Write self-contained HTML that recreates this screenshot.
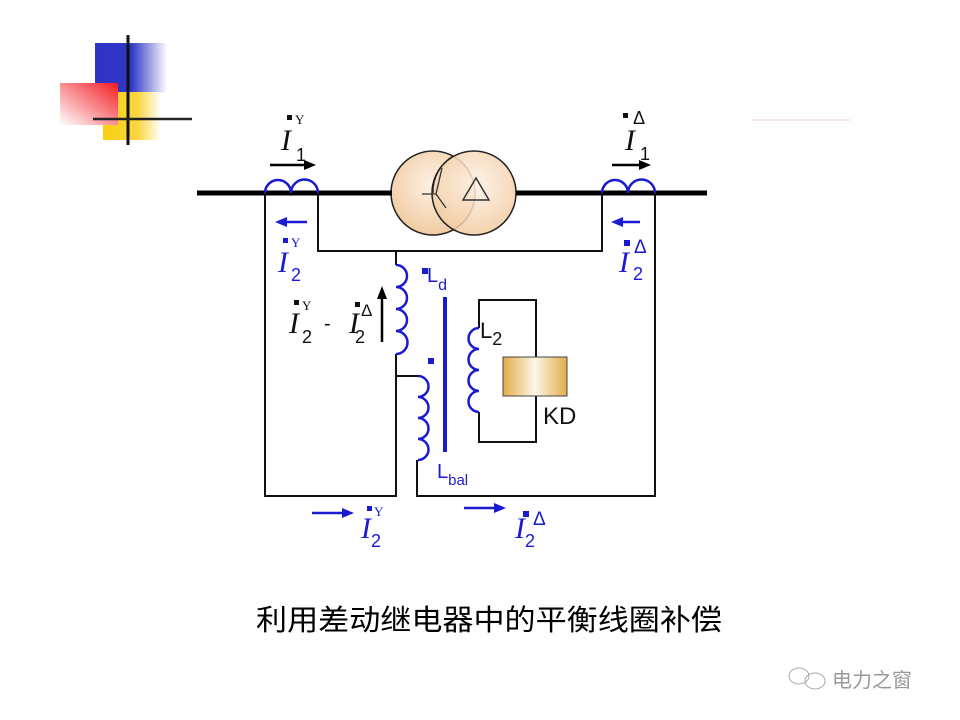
<!DOCTYPE html>
<html><head><meta charset="utf-8"><style>
html,body{margin:0;padding:0;background:#fff;}
svg{display:block;}
.it{font-family:"Liberation Serif",serif;font-style:italic;}
.sa{font-family:"Liberation Sans",sans-serif;}
</style></head><body>
<svg width="960" height="720" viewBox="0 0 960 720" xmlns="http://www.w3.org/2000/svg">
<defs>
<linearGradient id="gb" x1="0" x2="1"><stop offset="0" stop-color="#2f34c8"/><stop offset="0.5" stop-color="#3036c6"/><stop offset="1" stop-color="#fff"/></linearGradient>
<linearGradient id="gy" x1="0" x2="1"><stop offset="0" stop-color="#f9cf10"/><stop offset="0.6" stop-color="#fad640"/><stop offset="1" stop-color="#fff"/></linearGradient>
<linearGradient id="gr" x1="1" y1="0" x2="0" y2="1"><stop offset="0" stop-color="#f21c22"/><stop offset="1" stop-color="#fff"/></linearGradient>
<radialGradient id="gc" cx="0.5" cy="0.4" r="0.7"><stop offset="0" stop-color="#fdf2e6"/><stop offset="1" stop-color="#f0c495"/></radialGradient>
<linearGradient id="gk" x1="0" x2="1"><stop offset="0" stop-color="#e2ac48"/><stop offset="0.5" stop-color="#fdf6e8"/><stop offset="1" stop-color="#e2ac48"/></linearGradient>
</defs>
<rect x="95" y="43" width="72" height="50" fill="url(#gb)"/>
<rect x="103" y="92" width="58" height="48" fill="url(#gy)"/>
<rect x="60" y="83" width="58" height="42" fill="url(#gr)"/>
<line x1="128" y1="35" x2="128" y2="145" stroke="#111" stroke-width="3"/>
<line x1="93" y1="119" x2="192" y2="119" stroke="#222" stroke-width="2.5"/>
<line x1="752" y1="120" x2="850" y2="120" stroke="#f3e0e0" stroke-width="1.5"/>

<circle cx="433" cy="193" r="42" fill="url(#gc)" stroke="#222" stroke-width="1.5"/>
<circle cx="474" cy="193" r="42" fill="url(#gc)" fill-opacity="0.85" stroke="#222" stroke-width="1.5"/>
<path d="M433 193 A42 42 0 0 1 453 156" fill="none" stroke="#222" stroke-width="1.2"/>
<path d="M422 194 H436 L442 168 M436 194 L446 208" fill="none" stroke="#333" stroke-width="1.3"/>
<path d="M476 178 l-13 22 h26 z" fill="none" stroke="#333" stroke-width="1.5"/>

<line x1="197" y1="193" x2="392" y2="193" stroke="#000" stroke-width="5"/>
<line x1="516" y1="193" x2="707" y2="193" stroke="#000" stroke-width="5"/>
<path d="M265 193 a13 13 0 0 1 26 0 a13 13 0 0 1 27 0" fill="none" stroke="#1a1ad0" stroke-width="2.5"/>
<path d="M602 193 a13 13 0 0 1 26 0 a13 13 0 0 1 27 0" fill="none" stroke="#1a1ad0" stroke-width="2.5"/>

<g fill="none" stroke="#111" stroke-width="2">
<path d="M265 193 V496 H396 V354"/>
<path d="M396 376 H420"/>
<path d="M318 193 V251 H602 V193"/>
<path d="M396 251 V265"/>
<path d="M655 193 V496 H417 V460"/>
<path d="M479 328 V300 H536 V442 H479 V412"/>
</g>
<g fill="none" stroke="#1a1ad0" stroke-width="2.5">
<path d="M396 265 a11 11 0 0 1 0 22 a11 11 0 0 1 0 22 a11 11 0 0 1 0 22 a11 11 0 0 1 0 23"/>
<path d="M418 376 a10.5 10.5 0 0 1 0 21 a10.5 10.5 0 0 1 0 21 a10.5 10.5 0 0 1 0 21 a10.5 10.5 0 0 1 0 21"/>
<path d="M479 328 a10.5 10.5 0 0 0 0 21 a10.5 10.5 0 0 0 0 21 a10.5 10.5 0 0 0 0 21 a10.5 10.5 0 0 0 0 21"/>
</g>
<line x1="445" y1="297" x2="445" y2="452" stroke="#1a1ad0" stroke-width="4"/>
<rect x="422" y="268" width="6" height="6" fill="#1a1ad0"/>
<rect x="428" y="358" width="6" height="6" fill="#1a1ad0"/>
<rect x="503" y="357" width="64" height="39" fill="url(#gk)" stroke="#444" stroke-width="1"/>
<text x="543" y="424" class="sa" font-size="24" fill="#111">KD</text>
<text x="480" y="338" class="sa" font-size="22" fill="#111">L<tspan font-size="18" dy="7">2</tspan></text>
<text x="427" y="282" class="sa" font-size="20" fill="#1a1ad0">L<tspan font-size="16" dy="8">d</tspan></text>
<text x="437" y="478" class="sa" font-size="20" fill="#1a1ad0">L<tspan font-size="15" dy="7">bal</tspan></text>

<g stroke="#000" stroke-width="2.5" fill="#000">
<line x1="270" y1="165" x2="305" y2="165"/><path d="M316 165 l-12 -5 v10z" stroke="none"/>
<line x1="612" y1="165" x2="640" y2="165"/><path d="M651 165 l-12 -5 v10z" stroke="none"/>
<line x1="382" y1="342" x2="382" y2="298"/><path d="M382 286 l-5 13 h10z" stroke="none"/>
</g>
<g stroke="#1a1ad0" stroke-width="2.5" fill="#1a1ad0">
<line x1="286" y1="222" x2="307" y2="222"/><path d="M275 222 l12 -5 v10z" stroke="none"/>
<line x1="622" y1="222" x2="640" y2="222"/><path d="M611 222 l12 -5 v10z" stroke="none"/>
<line x1="312" y1="513" x2="342" y2="513"/><path d="M354 513 l-12 -5 v10z" stroke="none"/>
<line x1="464" y1="508" x2="494" y2="508"/><path d="M506 508 l-12 -5 v10z" stroke="none"/>
</g>

<g fill="#111">
<rect x="287" y="115" width="5" height="5"/><text x="295" y="124" font-family="Liberation Serif,serif" font-size="13">Y</text>
<text x="281" y="150" class="it" font-size="30">I</text><text x="296" y="161" class="sa" font-size="18">1</text>
<rect x="623" y="113" width="5" height="5"/><text x="633" y="124" class="sa" font-size="18">Δ</text>
<text x="625" y="150" class="it" font-size="30">I</text><text x="640" y="160" class="sa" font-size="18">1</text>
<rect x="294" y="300" width="5" height="5"/><text x="302" y="310" font-family="Liberation Serif,serif" font-size="13">Y</text>
<text x="289" y="333" class="it" font-size="30">I</text><text x="302" y="343" class="sa" font-size="18">2</text>
<text x="324" y="330" class="sa" font-size="20">-</text>
<rect x="355" y="302" width="5" height="5"/><text x="361" y="316" class="sa" font-size="17">Δ</text>
<text x="349" y="333" class="it" font-size="30">I</text><text x="355" y="343" class="sa" font-size="18">2</text>
</g>
<g fill="#1a1ad0">
<rect x="283" y="238" width="5" height="5"/><text x="291" y="247" font-family="Liberation Serif,serif" font-size="13">Y</text>
<text x="278" y="272" class="it" font-size="30">I</text><text x="291" y="281" class="sa" font-size="18">2</text>
<rect x="624" y="240" width="6" height="6"/><text x="634" y="253" class="sa" font-size="19">Δ</text>
<text x="619" y="272" class="it" font-size="30">I</text><text x="633" y="280" class="sa" font-size="18">2</text>
<rect x="367" y="506" width="5" height="5"/><text x="374" y="516" font-family="Liberation Serif,serif" font-size="13">Y</text>
<text x="361" y="538" class="it" font-size="30">I</text><text x="371" y="547" class="sa" font-size="18">2</text>
<rect x="523" y="511" width="6" height="6"/><text x="533" y="525" class="sa" font-size="19">Δ</text>
<text x="515" y="538" class="it" font-size="30">I</text><text x="525" y="547" class="sa" font-size="18">2</text>
</g>

<text x="256" y="630" font-family="'Liberation Sans','Noto Sans CJK SC',sans-serif" font-size="29" fill="#000" textLength="466" lengthAdjust="spacingAndGlyphs">利用差动继电器中的平衡线圈补偿</text>

<g fill="none" stroke="#aaa" stroke-width="1">
<ellipse cx="799" cy="676" rx="10" ry="8"/><ellipse cx="815" cy="681" rx="10" ry="8"/>
</g>
<text x="832" y="687" font-family="'Noto Sans CJK SC',sans-serif" font-size="20" fill="#999">电力之窗</text>
</svg>
</body></html>
